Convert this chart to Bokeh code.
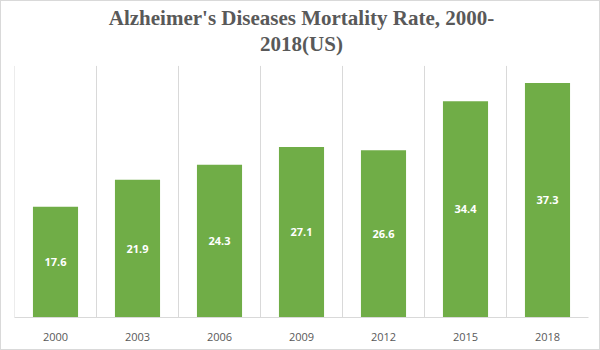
from bokeh.plotting import figure
from bokeh.models import ColumnDataSource, FixedTicker, Range1d
from bokeh.core.properties import value
from bokeh.embed import file_html
from bokeh.resources import INLINE

years = ["2000", "2003", "2006", "2009", "2012", "2015", "2018"]
rates = [17.6, 21.9, 24.3, 27.1, 26.6, 34.4, 37.3]
title_lines = ["Alzheimer's Diseases Mortality Rate, 2000-", "2018(US)"]
y_max = 40

# layout (pixels)
frame_h = 314          # frame spans full height above the axis; title sits inside it
plot_h = 250           # height used by the value scale 0..y_max
px = plot_h / y_max
title_px = [17, 43]    # title line centres, pixels from top of chart
frame_bottom = 315

xs = [i + 0.5 for i in range(len(years))]
src = ColumnDataSource(dict(
    x=xs, top=rates, mid=[r / 2 for r in rates],
    lab=[f"{r:.1f}" for r in rates]))

p = figure(width=600, height=350, output_backend="svg", toolbar_location=None,
           x_range=Range1d(0, len(years)), y_range=Range1d(0, frame_h / px),
           min_border_left=13, min_border_right=13, min_border_bottom=34,
           min_border_top=0)
p.styles = {"border": "1px solid #d9d9d9", "box-sizing": "border-box"}
p.outline_line_color = None
p.background_fill_color = "white"
p.border_fill_color = "white"

# vertical category separators spanning the value area only
sep = list(range(len(years)))
p.segment(x0=sep, y0=[0] * len(sep), x1=sep, y1=[y_max] * len(sep),
          line_color="#d9d9d9", line_width=1)

p.vbar(x="x", top="top", width=0.55, bottom=0, source=src,
       fill_color="#70AD47", line_color=None)
p.text(x="x", y="mid", text="lab", source=src, text_align="center",
       text_baseline="middle", text_color="white", text_font_style="bold",
       text_font=value("Open Sans"), text_font_size="11px")

# title (two centred lines)
p.text(x=[len(years) / 2] * 2, y=[(frame_bottom - t) / px for t in title_px],
       text=title_lines, text_align="center", text_baseline="middle",
       text_color="#595959", text_font=value("Liberation Serif"),
       text_font_style="bold", text_font_size="21px")

p.yaxis.visible = False
p.ygrid.visible = False
p.xgrid.visible = False
p.xaxis.ticker = FixedTicker(ticks=xs)
p.xaxis.major_label_overrides = {x: y for x, y in zip(xs, years)}
p.xaxis.major_tick_line_color = None
p.xaxis.minor_tick_line_color = None
p.xaxis.axis_line_color = "#d9d9d9"
p.xaxis.major_label_text_color = "#595959"
p.xaxis.major_label_text_font = "Open Sans"
p.xaxis.major_label_text_font_size = "11px"
p.xaxis.major_label_standoff = 9
p.xaxis.axis_label = None

open("out.html", "w").write(file_html(p, INLINE))
